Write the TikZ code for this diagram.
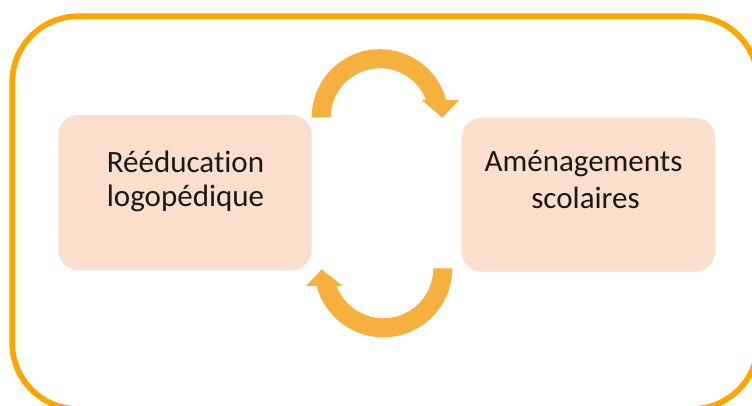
\documentclass[tikz,border=0pt]{standalone}
\usepackage{fontspec}
\setmainfont[Ligatures=NoCommon]{Carlito}
\usetikzlibrary{calc}
\definecolor{frameorange}{RGB}{255,165,0}
\definecolor{arrowgold}{RGB}{245,176,61}
\definecolor{boxfill}{RGB}{250,223,204}
\definecolor{txt}{RGB}{25,25,25}
\begin{document}
\begin{tikzpicture}[x=1pt,y=1pt,
  boxstyle/.style={draw=none, fill=boxfill, rounded corners=20pt, minimum width=253.4pt, minimum height=155pt, inner sep=0pt},
  textline/.style={anchor=base, font=\fontsize{31}{35}\selectfont, text=txt, inner sep=0pt},
  cyclearrow/.style={fill=arrowgold},
  frame/.style={draw=frameorange, line width=5.7pt, rounded corners=66pt}]
\useasboundingbox (0,0) rectangle (752,405);
\clip (0,0) rectangle (752,405);
\fill[white] (0,0) rectangle (752,405);
\draw[frame] (12.2,388.7) rectangle (758,-4);

\node[boxstyle] (reed) at (185,212.5) {};
\node[boxstyle, minimum height=154pt] (amen) at (588.3,210.3) {};

\node[textline] (reed1) at (185.5,232.7) {Rééducation};
\node[textline] (reed2) at (185.5,198.3) {logopédique};
\node[textline] (amen1) at (583.5,233.3) {Aménagements};
\node[textline] (amen2) at (585.5,196.7) {scolaires};

\coordinate (topc) at (380,287.5);
\coordinate (botc) at (383.3,136.7);
\fill[cyclearrow] ($(topc)+(180:68.3pt)$) arc[start angle=180,end angle=14.8,radius=68.3pt]
  -- (459,305) -- (442.3,287.3) -- (421.7,305)
  -- ($(topc)+(20.8:49.3pt)$) arc[start angle=20.8,end angle=180,radius=49.3pt] -- cycle;
\fill[cyclearrow] ($(botc)+(0:69pt)$) arc[start angle=0,end angle=-165.14,radius=69pt]
  -- (306,119) -- (321.7,135.7) -- (342.7,119)
  -- ($(botc)+(-159.27:50pt)$) arc[start angle=-159.27,end angle=0,radius=50pt] -- cycle;
\end{tikzpicture}
\end{document}
